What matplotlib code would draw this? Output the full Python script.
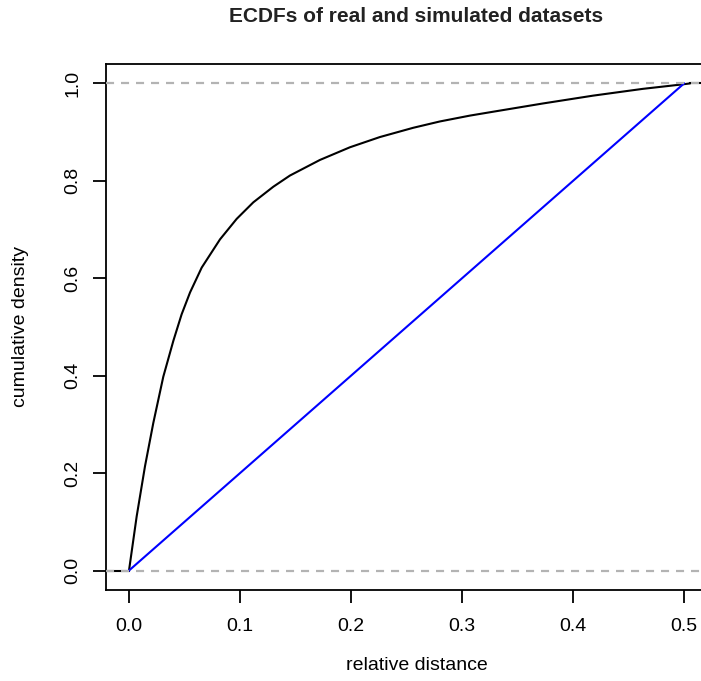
import matplotlib
matplotlib.use("Agg")
import matplotlib.pyplot as plt
import numpy as np

# ---- data ----
real_x = [0.0, 0.0069, 0.0144, 0.0219, 0.0309, 0.0400, 0.0474, 0.0550, 0.0655,
          0.0820, 0.0970, 0.1120, 0.1300, 0.1450, 0.1720, 0.1990, 0.2260, 0.2560,
          0.2800, 0.3070, 0.3280, 0.3730, 0.4180, 0.4630, 0.4980, 0.5050]
real_y = [0.0, 0.111, 0.214, 0.303, 0.398, 0.472, 0.526, 0.571, 0.622,
          0.680, 0.722, 0.756, 0.788, 0.811, 0.843, 0.869, 0.890, 0.909,
          0.922, 0.934, 0.942, 0.959, 0.975, 0.989, 0.998, 1.0]
sim_x = [0.0, 0.5]
sim_y = [0.0, 1.0]
x_ticks = [0.0, 0.1, 0.2, 0.3, 0.4, 0.5]
x_ticklabels = ["0.0", "0.1", "0.2", "0.3", "0.4", "0.5"]
y_ticks = [0.0, 0.2, 0.4, 0.6, 0.8, 1.0]
y_ticklabels = ["0.0", "0.2", "0.4", "0.6", "0.8", "1.0"]
x_max_data = 0.518
title = "ECDFs of real and simulated datasets"
xlabel = "relative distance"
ylabel = "cumulative density"

plt.rcParams['font.family'] = ['Liberation Sans', 'DejaVu Sans']
plt.rcParams['lines.scale_dashes'] = False

W, H = 701, 681
fig = plt.figure(figsize=(W / 100, H / 100), dpi=100)
left_px, right_px, top_px, bottom_px = 106, 727, 64, 590
ax = fig.add_axes([left_px / W, 1 - bottom_px / H,
                   (right_px - left_px) / W, (bottom_px - top_px) / H])

ext = 0.04 * x_max_data
xlim = (0 - ext, x_max_data + ext)
ylim = (-0.04, 1.04)
ax.set_xlim(*xlim)
ax.set_ylim(*ylim)

# ECDF of real data with flat extensions to plot edges
ax.plot([xlim[0], real_x[0]], [real_y[0], real_y[0]], color='black', lw=1.5, zorder=2)
ax.plot(real_x, real_y, color='black', lw=1.5, zorder=2, solid_joinstyle='round')
ax.plot([real_x[-1], xlim[1]], [real_y[-1], real_y[-1]], color='black', lw=1.5, zorder=2)

# simulated (uniform)
ax.plot(sim_x, sim_y, color='#0000FF', lw=1.5, zorder=3)

# 0/1 reference lines
for h in (0.0, 1.0):
    ax.axhline(h, color='#B3B3B3', lw=1.6, ls=(0, (5.8, 5.0)), zorder=4)

ax.set_xticks(x_ticks)
ax.set_xticklabels(x_ticklabels)
ax.set_yticks(y_ticks)
ax.set_yticklabels(y_ticklabels, rotation=90, va='center')
ax.tick_params(axis='both', direction='out', length=9.2, width=1.3,
               labelsize=14, colors='black')
ax.tick_params(axis='x', pad=11)
ax.tick_params(axis='y', pad=8.5)
for s in ax.spines.values():
    s.set_linewidth(1.3)

fig.text(416.5 / W, 1 - 22 / H, title, ha='center', va='baseline',
         fontsize=15, fontweight='bold', color='#222222')
fig.text(416.5 / W, 1 - 665 / H, xlabel, ha='center', va='center', fontsize=14)
fig.text(21 / W, 1 - 327 / H, ylabel, ha='center', va='center', fontsize=14,
         rotation=90)

fig.savefig("out.png", dpi=100)
